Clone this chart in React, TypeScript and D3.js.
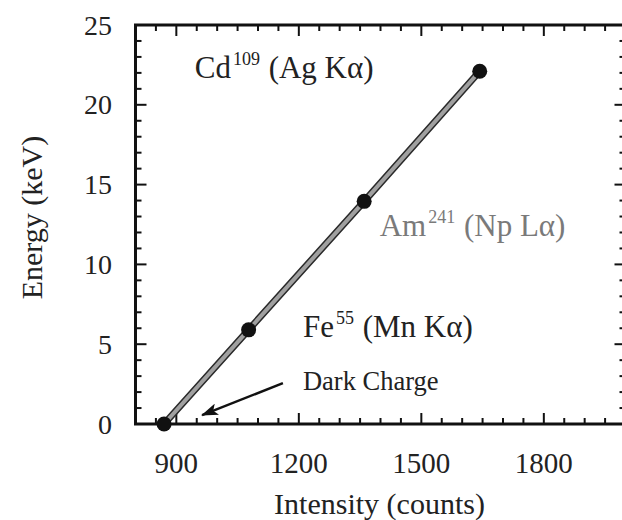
import { useMemo } from "react";
import { line, range, scaleLinear } from "d3";

const WIDTH = 622;
const HEIGHT = 520;
const PLOT = { left: 135.5, right: 625.5, top: 25, bottom: 424 };
const FONT = "'Liberation Serif', 'Times New Roman', serif";

// calibration points
const intensity = [870, 1077, 1360, 1643];
const energy = [0, 5.9, 13.95, 22.1];

const xTicks = [900, 1200, 1500, 1800];
const yTicks = [0, 5, 10, 15, 20, 25];

const sourceNames = ["Cd", "Am", "Fe"];
const sourceMass = ["109", "241", "55"];
const sourceLines = [" (Ag K\u03b1)", " (Np L\u03b1)", " (Mn K\u03b1)"];
const sourceAt = [
  [945, 21.7],
  [1398, 11.8],
  [1210, 5.44],
];
const sourceColor = ["#222", "#7a7a7a", "#222"];

const darkLabel = "Dark Charge";
const darkAt = [1210, 2.1];
const arrowFrom = [1161, 2.56];
const arrowTo = [963, 0.56];

export default function App() {
  const x = useMemo(() => scaleLinear().domain([800, 2000]).range([PLOT.left, PLOT.right]), []);
  const y = useMemo(() => scaleLinear().domain([0, 25]).range([PLOT.bottom, PLOT.top]), []);

  const points = intensity.map((v, i) => [v, energy[i]]);
  const path = line()
    .x((d) => x(d[0]))
    .y((d) => y(d[1]))(points as [number, number][]);

  const xMinor = range(800, 2001, 50);
  const yMinor = range(0, 26, 1);

  return (
    <svg
      width={WIDTH}
      height={HEIGHT}
      style={{ position: "absolute", left: 0, top: 0, background: "#fff" }}
      fontFamily={FONT}
    >
      <defs>
        <marker id="head" viewBox="0 0 17 12" refX="16" refY="6" markerWidth="17" markerHeight="12" markerUnits="userSpaceOnUse" orient="auto">
          <path d="M0,0 L17,6 L0,12 L4,6 Z" fill="#111" />
        </marker>
      </defs>

      {/* ticks, inward on all four sides */}
      {xMinor.map((v) => {
        const len = v % 300 === 0 ? 11 : 6;
        return (
          <g key={"x" + v} stroke="#111" strokeWidth={2}>
            <line x1={x(v)} x2={x(v)} y1={PLOT.bottom} y2={PLOT.bottom - len} />
            <line x1={x(v)} x2={x(v)} y1={PLOT.top} y2={PLOT.top + len} />
          </g>
        );
      })}
      {yMinor.map((v) => {
        const len = v % 5 === 0 ? 11 : 6;
        return (
          <g key={"y" + v} stroke="#111" strokeWidth={2}>
            <line x1={PLOT.left} x2={PLOT.left + len} y1={y(v)} y2={y(v)} />
            <line x1={PLOT.right} x2={PLOT.right - len} y1={y(v)} y2={y(v)} />
          </g>
        );
      })}
      <rect
        x={PLOT.left}
        y={PLOT.top}
        width={PLOT.right - PLOT.left}
        height={PLOT.bottom - PLOT.top}
        fill="none"
        stroke="#111"
        strokeWidth={3}
      />

      {xTicks.map((v) => (
        <text key={v} x={x(v)} y={PLOT.bottom + 49} textAnchor="middle" fontSize={29} fill="#222">
          {v}
        </text>
      ))}
      {yTicks.map((v) => (
        <text key={v} x={112} y={y(v) + 9.5} textAnchor="end" fontSize={28} fill="#222">
          {v}
        </text>
      ))}

      <text x={(PLOT.left + PLOT.right) / 2 - 1} y={514} textAnchor="middle" fontSize={30} fill="#222">
        Intensity (counts)
      </text>
      <text
        transform={`translate(42, ${(PLOT.top + PLOT.bottom) / 2 - 7}) rotate(-90)`}
        textAnchor="middle"
        fontSize={30}
        fill="#222"
      >
        Energy (keV)
      </text>

      {/* fit line */}
      <path d={path ?? ""} fill="none" stroke="#2a2a2a" strokeWidth={7} />
      <path d={path ?? ""} fill="none" stroke="#a0a0a0" strokeWidth={4} />
      {points.map((d, i) => (
        <circle key={i} cx={x(d[0])} cy={y(d[1])} r={7.5} fill="#111" />
      ))}

      {sourceNames.map((name, i) => (
        <text key={name} x={x(sourceAt[i][0])} y={y(sourceAt[i][1])} fontSize={31} fill={sourceColor[i]}>
          {name}
          <tspan fontSize={18} dx={2} dy={-13}>
            {sourceMass[i]}
          </tspan>
          <tspan dy={13} dx={1}>{sourceLines[i]}</tspan>
        </text>
      ))}

      <text x={x(darkAt[0])} y={y(darkAt[1])} fontSize={26.5} fill="#222">
        {darkLabel}
      </text>
      <line
        x1={x(arrowFrom[0])}
        y1={y(arrowFrom[1])}
        x2={x(arrowTo[0])}
        y2={y(arrowTo[1])}
        stroke="#111"
        strokeWidth={2.5}
        markerEnd="url(#head)"
      />
    </svg>
  );
}
